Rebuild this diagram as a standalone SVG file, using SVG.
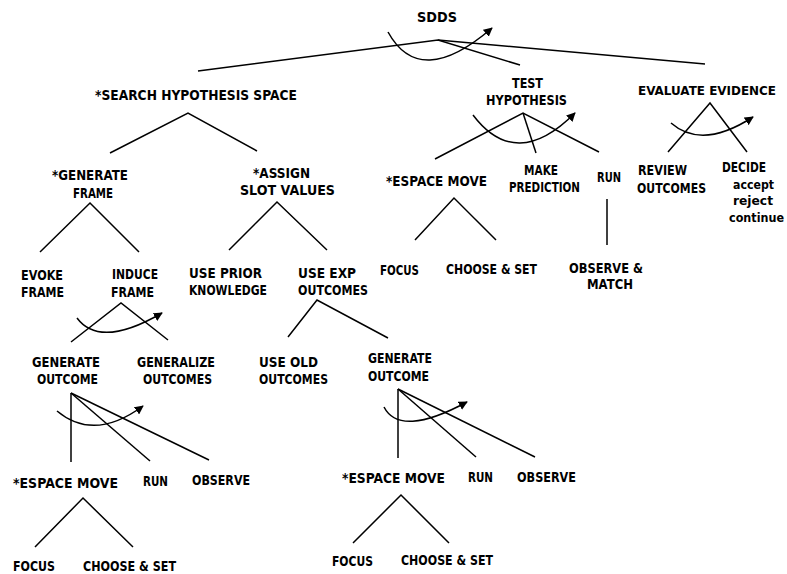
<svg xmlns="http://www.w3.org/2000/svg" width="787" height="574" viewBox="0 0 787 574">
<defs>
<marker id="ah" viewBox="0 0 10 10" refX="9" refY="5" markerWidth="9" markerHeight="9" markerUnits="userSpaceOnUse" orient="auto">
<path d="M0,0 L10,5 L0,10 z" fill="#000"/>
</marker>
<style>
text{font-family:"DejaVu Sans","Liberation Sans",sans-serif;font-size:14px;font-weight:bold;fill:#000}
text.lc{font-size:11.5px}
text.ev{font-size:12.5px}
.ln line,.ln polyline{stroke:#000;stroke-width:1.5;fill:none}
.arc{stroke:#000;stroke-width:1.5;fill:none;marker-end:url(#ah)}
</style>
</defs>
<rect width="787" height="574" fill="#fff"/>
<g id="connectors" class="ln">
<polyline points="198,71 438,40 520,65"/>
<line x1="438" y1="40" x2="705" y2="64"/>
<polyline points="110,153 188,113 257,151"/>
<polyline points="40,252 90,203 139,252"/>
<polyline points="229,250 277,202 327,250"/>
<polyline points="71,342 121,303 168,340"/>
<polyline points="288,337 317,300 388,338"/>
<line x1="71" y1="393" x2="71" y2="462"/>
<line x1="71" y1="393" x2="150" y2="461"/>
<line x1="71" y1="393" x2="209" y2="460"/>
<polyline points="35,547 83,498 133,547"/>
<line x1="398" y1="389" x2="398" y2="458"/>
<line x1="398" y1="389" x2="476" y2="457"/>
<line x1="398" y1="389" x2="535" y2="457"/>
<polyline points="353,543 401,495 449,543"/>
<polyline points="435,159 523,113 599,152"/>
<line x1="523" y1="113" x2="536" y2="153"/>
<polyline points="415,240 454,198 496,240"/>
<line x1="607" y1="199" x2="607" y2="245"/>
<polyline points="668,152 710,103 747,152"/>
<path class="arc" d="M388,32 Q420,90 492,28"/>
<path class="arc" d="M473,115 Q516,172 575,113"/>
<path class="arc" d="M671,123 Q702,150 753,117"/>
<path class="arc" d="M77,318 Q100,349 162,313"/>
<path class="arc" d="M57,411 Q94,442 143,406"/>
<path class="arc" d="M384,407 Q400,438 467,402"/>
</g>
<g id="sdds"><text x="417" y="22" textLength="40" lengthAdjust="spacingAndGlyphs">SDDS</text></g>
<g id="search"><text x="95" y="100" textLength="202" lengthAdjust="spacingAndGlyphs">*SEARCH HYPOTHESIS SPACE</text></g>
<g id="test"><text x="512" y="88" textLength="31" lengthAdjust="spacingAndGlyphs">TEST</text><text x="486" y="105" textLength="81" lengthAdjust="spacingAndGlyphs">HYPOTHESIS</text></g>
<g id="evaluate"><text class="ev" x="638" y="95" textLength="138" lengthAdjust="spacingAndGlyphs">EVALUATE EVIDENCE</text></g>
<g id="genframe"><text x="52" y="180" textLength="76" lengthAdjust="spacingAndGlyphs">*GENERATE</text><text x="73" y="198" textLength="40" lengthAdjust="spacingAndGlyphs">FRAME</text></g>
<g id="assign"><text x="253" y="178" textLength="57" lengthAdjust="spacingAndGlyphs">*ASSIGN</text><text x="240" y="195" textLength="95" lengthAdjust="spacingAndGlyphs">SLOT VALUES</text></g>
<g id="espace0"><text x="386" y="186" textLength="101" lengthAdjust="spacingAndGlyphs">*ESPACE MOVE</text></g>
<g id="predict"><text x="524" y="175" textLength="34" lengthAdjust="spacingAndGlyphs">MAKE</text><text x="509" y="192" textLength="71" lengthAdjust="spacingAndGlyphs">PREDICTION</text></g>
<g id="run0"><text x="597" y="182" textLength="24" lengthAdjust="spacingAndGlyphs">RUN</text></g>
<g id="review"><text x="638" y="175" textLength="49" lengthAdjust="spacingAndGlyphs">REVIEW</text><text x="637" y="193" textLength="69" lengthAdjust="spacingAndGlyphs">OUTCOMES</text></g>
<g id="decide"><text x="722" y="172" textLength="44" lengthAdjust="spacingAndGlyphs">DECIDE</text><text class="lc" x="733" y="189" textLength="41" lengthAdjust="spacingAndGlyphs">accept</text><text class="lc" x="733" y="205" textLength="40" lengthAdjust="spacingAndGlyphs">reject</text><text class="lc" x="729" y="222" textLength="55" lengthAdjust="spacingAndGlyphs">continue</text></g>
<g id="evoke"><text x="21" y="280" textLength="42" lengthAdjust="spacingAndGlyphs">EVOKE</text><text x="21" y="297" textLength="43" lengthAdjust="spacingAndGlyphs">FRAME</text></g>
<g id="induce"><text x="112" y="279" textLength="46" lengthAdjust="spacingAndGlyphs">INDUCE</text><text x="111" y="297" textLength="43" lengthAdjust="spacingAndGlyphs">FRAME</text></g>
<g id="prior"><text x="189" y="278" textLength="73" lengthAdjust="spacingAndGlyphs">USE PRIOR</text><text x="189" y="295" textLength="78" lengthAdjust="spacingAndGlyphs">KNOWLEDGE</text></g>
<g id="useexp"><text x="298" y="278" textLength="58" lengthAdjust="spacingAndGlyphs">USE EXP</text><text x="298" y="295" textLength="70" lengthAdjust="spacingAndGlyphs">OUTCOMES</text></g>
<g id="focus0"><text x="380" y="275" textLength="39" lengthAdjust="spacingAndGlyphs">FOCUS</text></g>
<g id="choose0"><text x="446" y="274" textLength="91" lengthAdjust="spacingAndGlyphs">CHOOSE &amp; SET</text></g>
<g id="observe0"><text x="569" y="273" textLength="74" lengthAdjust="spacingAndGlyphs">OBSERVE &amp;</text><text x="587" y="289" textLength="46" lengthAdjust="spacingAndGlyphs">MATCH</text></g>
<g id="genout1"><text x="32" y="367" textLength="68" lengthAdjust="spacingAndGlyphs">GENERATE</text><text x="37" y="384" textLength="61" lengthAdjust="spacingAndGlyphs">OUTCOME</text></g>
<g id="generalize"><text x="137" y="367" textLength="78" lengthAdjust="spacingAndGlyphs">GENERALIZE</text><text x="143" y="384" textLength="69" lengthAdjust="spacingAndGlyphs">OUTCOMES</text></g>
<g id="useold"><text x="259" y="367" textLength="59" lengthAdjust="spacingAndGlyphs">USE OLD</text><text x="259" y="384" textLength="69" lengthAdjust="spacingAndGlyphs">OUTCOMES</text></g>
<g id="genout2"><text x="368" y="363" textLength="64" lengthAdjust="spacingAndGlyphs">GENERATE</text><text x="368" y="381" textLength="61" lengthAdjust="spacingAndGlyphs">OUTCOME</text></g>
<g id="espace1"><text x="13" y="488" textLength="105" lengthAdjust="spacingAndGlyphs">*ESPACE MOVE</text></g>
<g id="run1"><text x="143" y="486" textLength="25" lengthAdjust="spacingAndGlyphs">RUN</text></g>
<g id="observe1"><text x="192" y="485" textLength="58" lengthAdjust="spacingAndGlyphs">OBSERVE</text></g>
<g id="focus1"><text x="13" y="571" textLength="42" lengthAdjust="spacingAndGlyphs">FOCUS</text></g>
<g id="choose1"><text x="83" y="571" textLength="93" lengthAdjust="spacingAndGlyphs">CHOOSE &amp; SET</text></g>
<g id="espace2"><text x="342" y="483" textLength="103" lengthAdjust="spacingAndGlyphs">*ESPACE MOVE</text></g>
<g id="run2"><text x="468" y="482" textLength="25" lengthAdjust="spacingAndGlyphs">RUN</text></g>
<g id="observe2"><text x="517" y="482" textLength="59" lengthAdjust="spacingAndGlyphs">OBSERVE</text></g>
<g id="focus2"><text x="332" y="566" textLength="41" lengthAdjust="spacingAndGlyphs">FOCUS</text></g>
<g id="choose2"><text x="401" y="565" textLength="92" lengthAdjust="spacingAndGlyphs">CHOOSE &amp; SET</text></g>
</svg>
